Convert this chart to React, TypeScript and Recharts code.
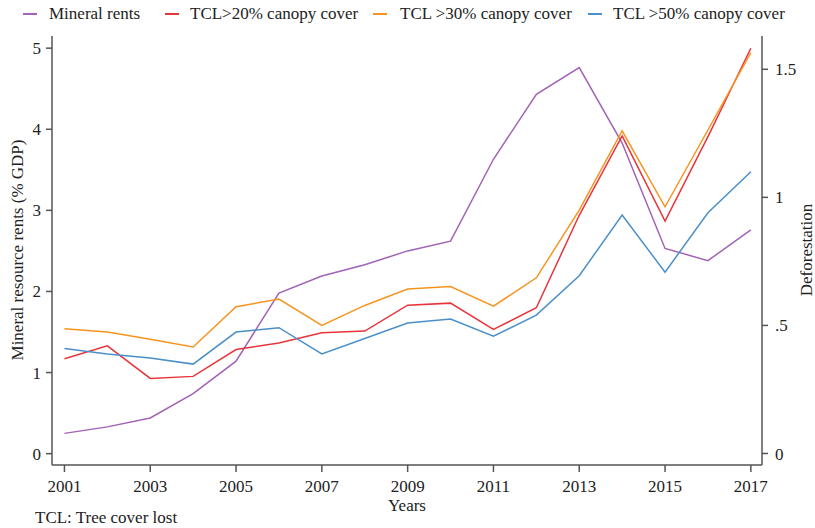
import React from 'react';
import { LineChart, Line, XAxis, YAxis } from 'recharts';

const years = [2001, 2002, 2003, 2004, 2005, 2006, 2007, 2008, 2009, 2010, 2011, 2012, 2013, 2014, 2015, 2016, 2017];
const mineralRents = [0.25, 0.33, 0.44, 0.74, 1.14, 1.98, 2.19, 2.33, 2.5, 2.62, 3.63, 4.43, 4.76, 3.83, 2.53, 2.38, 2.76];
const tcl20 = [0.37, 0.42, 0.293, 0.301, 0.406, 0.431, 0.471, 0.478, 0.579, 0.587, 0.484, 0.569, 0.93, 1.24, 0.907, 1.237, 1.582];
const tcl30 = [0.487, 0.474, 0.446, 0.416, 0.573, 0.603, 0.5, 0.578, 0.642, 0.652, 0.575, 0.686, 0.95, 1.26, 0.963, 1.263, 1.565];
const tcl50 = [0.41, 0.388, 0.373, 0.349, 0.474, 0.491, 0.389, 0.449, 0.509, 0.525, 0.458, 0.54, 0.694, 0.931, 0.708, 0.94, 1.1];

const xTicks = [2001, 2003, 2005, 2007, 2009, 2011, 2013, 2015, 2017];
const leftTicks = [0, 1, 2, 3, 4, 5];
const rightTicks = [0, 0.5, 1, 1.5];

const data = years.map((year, i) => ({
  year,
  mineral: mineralRents[i],
  tcl20: tcl20[i],
  tcl30: tcl30[i],
  tcl50: tcl50[i],
}));

const FONT = '"Liberation Serif", "Times New Roman", serif';
const AXIS = '#555';
const TEXT = '#222';

const legendItems = [
  { label: 'Mineral rents', color: '#a262b5', icon: 23, text: 49 },
  { label: 'TCL>20% canopy cover', color: '#e8343b', icon: 165, text: 190 },
  { label: 'TCL >30% canopy cover', color: '#f7941f', icon: 373, text: 400 },
  { label: 'TCL >50% canopy cover', color: '#4b8fc9', icon: 588, text: 613 },
];

const tickStyle = { fontFamily: FONT, fontSize: 17, fill: TEXT };
const labelStyle: React.CSSProperties = { position: 'absolute', fontFamily: FONT, fontSize: 17, color: TEXT, whiteSpace: 'nowrap', lineHeight: '17px' };

export default function App() {
  return (
    <div style={{ position: 'absolute', left: 0, top: 0, width: 815, height: 528, background: '#fff', overflow: 'hidden' }}>
      <LineChart width={815} height={528} data={data} margin={{ top: 36, right: 0, bottom: 0, left: 0 }}>
        <XAxis
          dataKey="year"
          type="number"
          domain={[2000.71, 2017.26]}
          ticks={xTicks}
          height={63}
          stroke={AXIS}
          strokeWidth={1.5}
          tickSize={7}
          tick={tickStyle}
          tickMargin={8}
          allowDataOverflow
        />
        <YAxis
          yAxisId="left"
          orientation="left"
          domain={[-0.14, 5.15]}
          ticks={leftTicks}
          width={52}
          stroke={AXIS}
          strokeWidth={1.5}
          tickSize={6}
          tick={tickStyle}
          tickMargin={5}
          allowDataOverflow
        />
        <YAxis
          yAxisId="right"
          orientation="right"
          domain={[-0.045, 1.63]}
          ticks={rightTicks}
          width={53}
          stroke={AXIS}
          strokeWidth={1.5}
          tickSize={6}
          tick={tickStyle}
          tickMargin={7}
          tickFormatter={(v: number) => (v === 0.5 ? '.5' : String(v))}
          allowDataOverflow
        />
        <Line yAxisId="left" dataKey="mineral" stroke="#a262b5" strokeWidth={1.5} dot={false} isAnimationActive={false} />
        <Line yAxisId="right" dataKey="tcl20" stroke="#e8343b" strokeWidth={1.5} dot={false} isAnimationActive={false} />
        <Line yAxisId="right" dataKey="tcl30" stroke="#f7941f" strokeWidth={1.5} dot={false} isAnimationActive={false} />
        <Line yAxisId="right" dataKey="tcl50" stroke="#4b8fc9" strokeWidth={1.5} dot={false} isAnimationActive={false} />
      </LineChart>

      {legendItems.map((it) => (
        <React.Fragment key={it.label}>
          <span style={{ position: 'absolute', left: it.icon, top: 13, width: 14, height: 2, background: it.color }} />
          <span style={{ ...labelStyle, left: it.text, top: 5 }}>{it.label}</span>
        </React.Fragment>
      ))}

      <div style={{ ...labelStyle, left: 17, top: 250, transform: 'translate(-50%, -50%) rotate(-90deg)' }}>
        Mineral resource rents (% GDP)
      </div>
      <div style={{ ...labelStyle, left: 806, top: 250, transform: 'translate(-50%, -50%) rotate(-90deg)' }}>
        Deforestation
      </div>
      <div style={{ ...labelStyle, left: 407, top: 505, transform: 'translate(-50%, -50%)' }}>Years</div>
      <div style={{ ...labelStyle, left: 35, top: 509 }}>TCL: Tree cover lost</div>
    </div>
  );
}
